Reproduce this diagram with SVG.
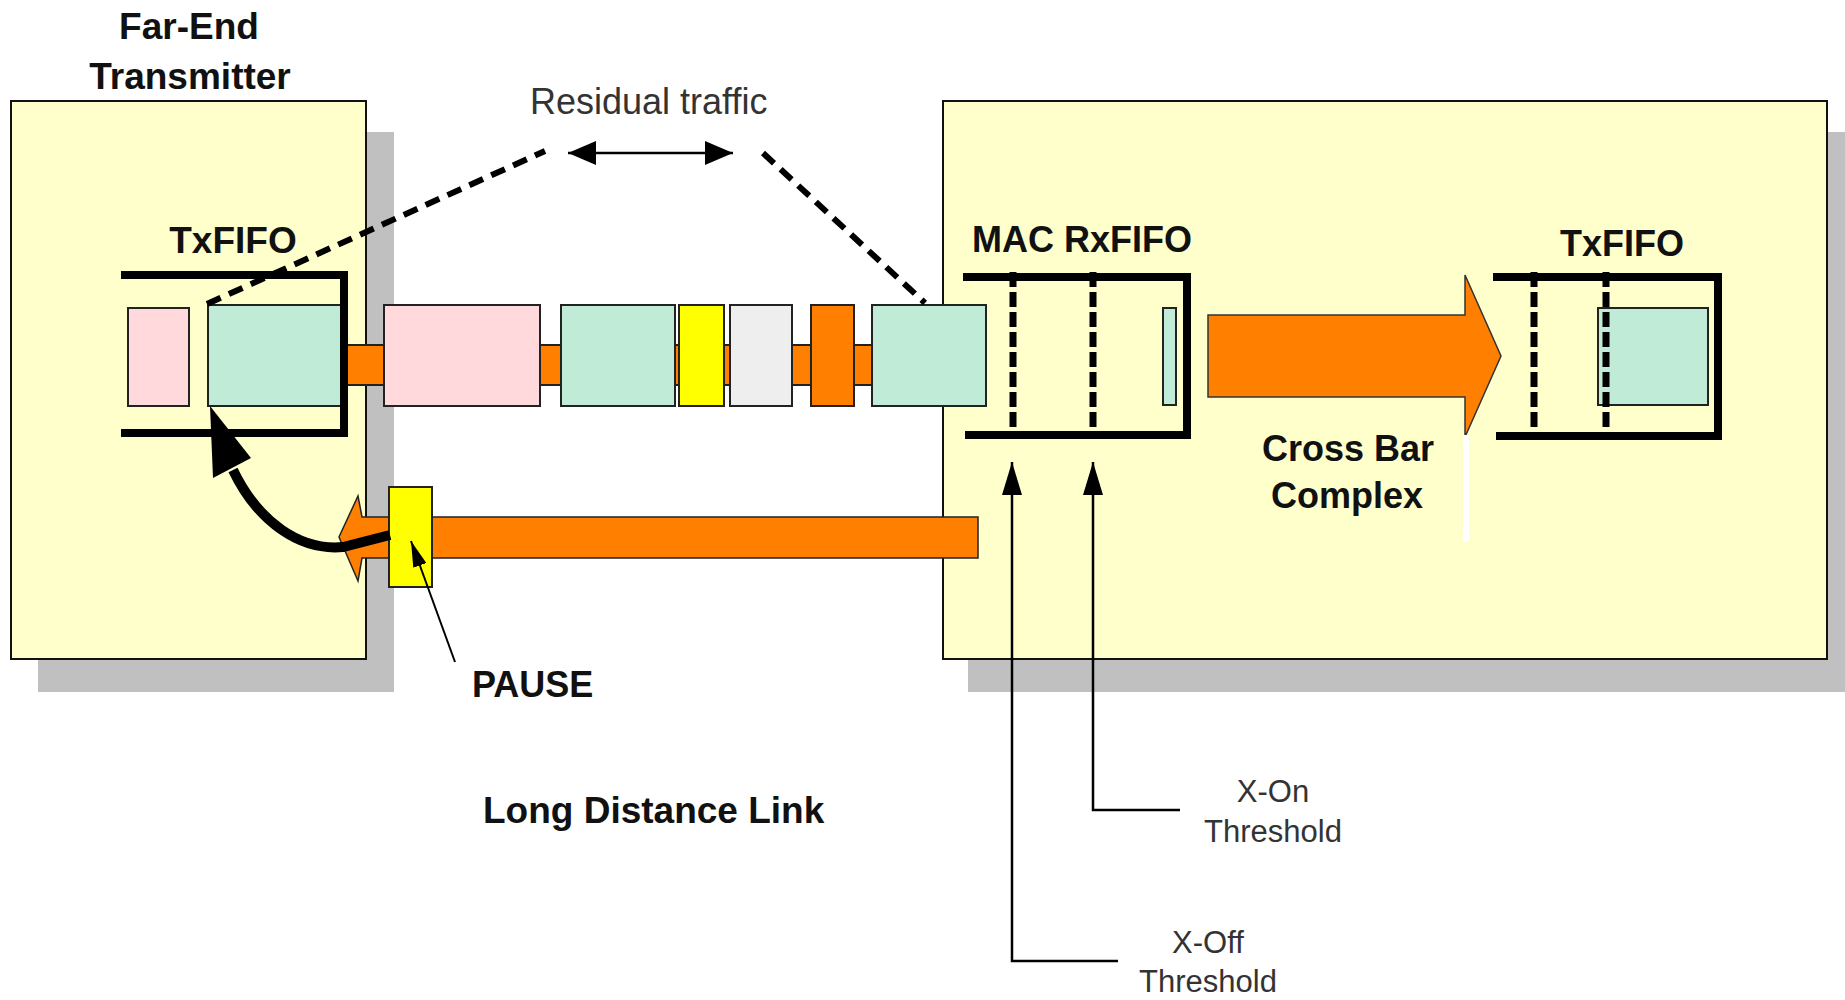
<svg xmlns="http://www.w3.org/2000/svg" width="1845" height="1000" viewBox="0 0 1845 1000">
<style>
.shadow{fill:#C0C0C0}
.box{fill:#FFFFCC;stroke:#111;stroke-width:2}
.b{font-family:"Liberation Sans",Arial,sans-serif;font-weight:bold;fill:#111}
.r{font-family:"Liberation Sans",Arial,sans-serif;fill:#333}
.fifo{fill:none;stroke:#000;stroke-width:8}
.pkt{stroke:#222;stroke-width:2}
.pink{fill:#FFD9DC}.teal{fill:#BFEBD7}.yel{fill:#FFFF00}.gry{fill:#EEEEEE}.org{fill:#FF8000}
.thr{stroke:#000;stroke-width:7;stroke-dasharray:15 5;fill:none}
.dash{stroke:#000;stroke-width:6;stroke-dasharray:15 9;fill:none}
.thin{stroke:#000;stroke-width:2.5;fill:none}
</style>
<defs>
<marker id="ah" viewBox="0 0 28 24" refX="28" refY="12" markerWidth="28" markerHeight="24" markerUnits="userSpaceOnUse" orient="auto-start-reverse"><path d="M0,0 L28,12 L0,24 z" fill="#000"/></marker>
<marker id="ahs" viewBox="0 0 33 20" refX="33" refY="10" markerWidth="33" markerHeight="20" markerUnits="userSpaceOnUse" orient="auto"><path d="M0,0 L33,10 L0,20 z" fill="#000"/></marker>
<marker id="ahp" viewBox="0 0 26 14" refX="26" refY="7" markerWidth="26" markerHeight="14" markerUnits="userSpaceOnUse" orient="auto"><path d="M0,0 L26,7 L0,14 z" fill="#000"/></marker>
</defs>
<rect width="1845" height="1000" fill="#fff"/>

<g id="far-end-transmitter">
<rect class="shadow" x="38" y="132" width="356" height="560"/>
<rect class="box" x="11" y="101" width="355" height="558"/>
<text class="b" x="189" y="39" font-size="37" text-anchor="middle">Far-End</text>
<text class="b" x="190" y="89" font-size="37" text-anchor="middle">Transmitter</text>
</g>

<g id="switch">
<rect class="shadow" x="968" y="132" width="890" height="560"/>
<rect class="box" x="943" y="101" width="884" height="558"/>
</g>

<g id="link-traffic">
<rect class="org pkt" x="340" y="345" width="535" height="40"/>
<rect class="pink pkt" x="384" y="305" width="156" height="101"/>
<rect class="teal pkt" x="561" y="305" width="114" height="101"/>
<rect class="yel pkt" x="679" y="305" width="45" height="101"/>
<rect class="gry pkt" x="730" y="305" width="62" height="101"/>
<rect class="org pkt" x="811" y="305" width="43" height="101"/>
<rect class="teal pkt" x="872" y="305" width="114" height="101"/>
</g>

<g id="left-txfifo">
<rect class="pink pkt" x="128" y="308" width="61" height="98"/>
<rect class="teal pkt" x="208" y="305" width="134" height="101"/>
<path class="fifo" d="M121,275 H344 V433 H121"/>
<text class="b" x="233" y="253" font-size="37" text-anchor="middle">TxFIFO</text>
</g>

<g id="mac-rxfifo">
<rect class="teal pkt" x="1163" y="308" width="13" height="97"/>
<path class="fifo" d="M963,277 H1187 V435 H965"/>
<line class="thr" x1="1013" y1="272" x2="1013" y2="435"/>
<line class="thr" x1="1093" y1="272" x2="1093" y2="435"/>
<text class="b" x="972" y="252" font-size="36">MAC RxFIFO</text>
</g>

<g id="right-txfifo">
<rect class="teal pkt" x="1598" y="308" width="110" height="97"/>
<path class="fifo" d="M1493,277 H1718 V436 H1496"/>
<line class="thr" x1="1534" y1="272" x2="1534" y2="436"/>
<line class="thr" x1="1606" y1="272" x2="1606" y2="436"/>
<text class="b" x="1622" y="256" font-size="36" text-anchor="middle">TxFIFO</text>
</g>

<g id="crossbar">
<polygon points="1208,315 1465,315 1465,275 1501,356 1465,437 1465,397 1208,397" fill="#FF8000" stroke="#333" stroke-width="1.5"/>
<rect x="1463" y="435" width="6" height="106" fill="#fff"/>
<text class="b" x="1348" y="461" font-size="36" text-anchor="middle">Cross Bar</text>
<text class="b" x="1347" y="508" font-size="36" text-anchor="middle">Complex</text>
</g>

<g id="pause">
<polygon points="978,517 362,517 358,496 339,537 358,581 362,558 978,558" fill="#FF8000" stroke="#222" stroke-width="1.5"/>
<rect class="yel pkt" x="389" y="487" width="43" height="100"/>
<text class="b" x="472" y="697" font-size="36">PAUSE</text>
</g>

<g id="connectors">
<path class="dash" d="M207,304 L545,151"/>
<path class="dash" d="M763,153 L925,303"/>
<line class="thin" x1="568" y1="153" x2="733" y2="153" marker-start="url(#ah)" marker-end="url(#ah)"/>
<path d="M390,535 L343,547 C300,551 258,522 233,470" fill="none" stroke="#000" stroke-width="10"/>
<polygon points="210,406 213,478 251,458" fill="#000"/>
<line x1="455" y1="662" x2="411" y2="541" stroke="#000" stroke-width="2" marker-end="url(#ahp)"/>
<polyline class="thin" points="1118,961 1012,961 1012,462" marker-end="url(#ahs)"/>
<polyline class="thin" points="1180,810 1093,810 1093,462" marker-end="url(#ahs)"/>
</g>

<g id="labels">
<text class="r" x="530" y="114" font-size="36">Residual traffic</text>
<text class="b" x="483" y="823" font-size="37">Long Distance Link</text>
<text class="r" x="1273" y="802" font-size="31" text-anchor="middle">X-On</text>
<text class="r" x="1273" y="842" font-size="31" text-anchor="middle">Threshold</text>
<text class="r" x="1208" y="953" font-size="31" text-anchor="middle">X-Off</text>
<text class="r" x="1208" y="992" font-size="31" text-anchor="middle">Threshold</text>
</g>
</svg>
